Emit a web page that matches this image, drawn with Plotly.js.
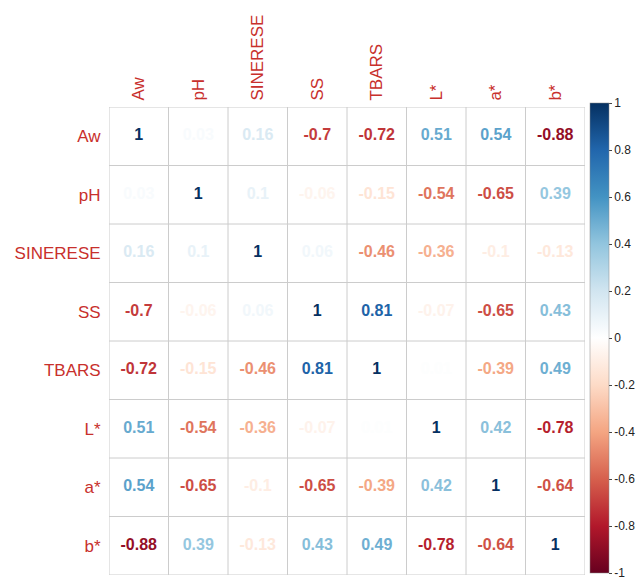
<!DOCTYPE html>
<html>
<head>
<meta charset="utf-8">
<script src="https://cdn.plot.ly/plotly-3.0.1.min.js"></script>
<style>html,body{margin:0;padding:0;background:#fff;}#chart{width:638px;height:579px;}</style>
</head>
<body>
<div id="chart"></div>
<script>
const variables = ["Aw", "pH", "SINERESE", "SS", "TBARS", "L*", "a*", "b*"];
const rowAw       = [1, 0.03, 0.16, -0.7, -0.72, 0.51, 0.54, -0.88];
const rowPH       = [0.03, 1, 0.1, -0.06, -0.15, -0.54, -0.65, 0.39];
const rowSinerese = [0.16, 0.1, 1, 0.06, -0.46, -0.36, -0.1, -0.13];
const rowSS       = [-0.7, -0.06, 0.06, 1, 0.81, -0.07, -0.65, 0.43];
const rowTBARS    = [-0.72, -0.15, -0.46, 0.81, 1, 0.01, -0.39, 0.49];
const rowL        = [0.51, -0.54, -0.36, -0.07, 0.01, 1, 0.42, -0.78];
const rowA        = [0.54, -0.65, -0.1, -0.65, -0.39, 0.42, 1, -0.64];
const rowB        = [-0.88, 0.39, -0.13, 0.43, 0.49, -0.78, -0.64, 1];
const matrix = [rowAw, rowPH, rowSinerese, rowSS, rowTBARS, rowL, rowA, rowB];
const colorbarTicks = [-1, -0.8, -0.6, -0.4, -0.2, 0, 0.2, 0.4, 0.6, 0.8, 1];

const palette = ["#67001F","#B2182B","#D6604D","#F4A582","#FDDBC7","#FFFFFF","#D1E5F0","#92C5DE","#4393C3","#2166AC","#053061"];
const colorscale = palette.map((c, i) => [i / (palette.length - 1), c]);

function hexToRgb(h){return [parseInt(h.slice(1,3),16),parseInt(h.slice(3,5),16),parseInt(h.slice(5,7),16)];}
function valueColor(v){
  const t = (v + 1) / 2 * (palette.length - 1);
  const i = Math.min(Math.floor(t), palette.length - 2);
  const f = t - i;
  const a = hexToRgb(palette[i]), b = hexToRgb(palette[i+1]);
  const c = a.map((x, k) => Math.round(x + (b[k] - x) * f));
  return `rgb(${c[0]},${c[1]},${c[2]})`;
}

const xs = [], ys = [], texts = [], colors = [], vals = [];
matrix.forEach((row, r) => row.forEach((v, c) => {
  xs.push(c); ys.push(r); vals.push(v);
  texts.push(String(v));
  colors.push(valueColor(v));
}));

const textTrace = {
  type: "scatter", mode: "text", x: xs, y: ys, text: texts,
  textfont: {family: "Liberation Sans, Arial, sans-serif", size: 16, color: colors, weight: "bold"},
  textposition: "middle center", hoverinfo: "skip", showlegend: false
};
const scaleTrace = {
  type: "scatter", mode: "markers", x: xs, y: ys,
  marker: {color: vals, colorscale: colorscale, cmin: -1, cmax: 1, opacity: 0, size: 1,
    showscale: true,
    colorbar: {
      x: 1.01, xanchor: "left", xref: "paper", xpad: 0, ypad: 0,
      y: 0.506, yanchor: "middle", yref: "paper",
      lenmode: "pixels", len: 470, thickness: 19,
      outlinewidth: 0.5, outlinecolor: "#888",
      tickmode: "array", tickvals: colorbarTicks, ticktext: colorbarTicks.map(String),
      ticks: "outside", ticklen: 3, tickcolor: "#444", ticklabeloverflow: "allow",
      tickfont: {family: "Liberation Sans, Arial, sans-serif", size: 12, color: "#222"}
    }},
  hoverinfo: "skip", showlegend: false
};

const shapes = [];
for (let k = 0; k <= variables.length; k++) {
  shapes.push({type: "line", xref: "x", yref: "y", x0: k - 0.5, x1: k - 0.5, y0: -0.5, y1: variables.length - 0.5, line: {color: "#cccccc", width: 1}});
  shapes.push({type: "line", xref: "x", yref: "y", y0: k - 0.5, y1: k - 0.5, x0: -0.5, x1: variables.length - 0.5, line: {color: "#cccccc", width: 1}});
}

const labelFont = {family: "Liberation Sans, Arial, sans-serif", size: 17, color: "#c8302c"};
const layout = {
  width: 638, height: 579,
  margin: {l: 109, r: 53, t: 107, b: 4, autoexpand: false},
  paper_bgcolor: "#ffffff", plot_bgcolor: "#ffffff",
  xaxis: {range: [-0.5, 7.5], side: "top", tickmode: "array", tickvals: variables.map((_, i) => i), ticktext: variables,
    tickangle: -90, tickfont: labelFont, showgrid: false, zeroline: false, showline: false, ticks: "outside", ticklen: 2, tickcolor: "rgba(0,0,0,0)", fixedrange: true, automargin: false},
  yaxis: {range: [7.5, -0.5], tickmode: "array", tickvals: variables.map((_, i) => i), ticktext: variables,
    tickfont: labelFont, showgrid: false, zeroline: false, showline: false, ticks: "outside", ticklen: 4, tickcolor: "rgba(0,0,0,0)", fixedrange: true, automargin: false},
  shapes: shapes,
  showlegend: false
};

Plotly.newPlot("chart", [scaleTrace, textTrace], layout, {displayModeBar: false, staticPlot: true});
</script>
</body>
</html>
